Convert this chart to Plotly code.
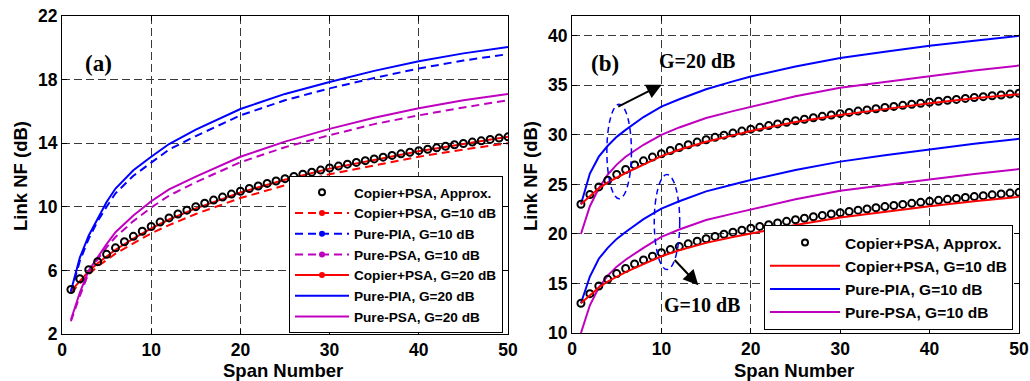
import plotly.graph_objects as go

# ---------------- data ----------------
SPANS = list(range(1, 51))
SPANS_LINE = [1, 2, 3, 4, 5, 6, 8, 10, 12, 15, 18, 20, 25, 30, 35, 40, 45, 50]

# Panel (a)
a_approx = [4.80, 5.47, 6.04, 6.55, 7.01, 7.42, 7.80, 8.14, 8.46, 8.76, 9.04, 9.30, 9.55, 9.79, 10.01,
            10.22, 10.42, 10.61, 10.80, 10.98, 11.15, 11.31, 11.47, 11.62, 11.77, 11.91, 12.05, 12.18,
            12.31, 12.44, 12.56, 12.68, 12.79, 12.90, 13.01, 13.12, 13.23, 13.33, 13.43, 13.53, 13.62,
            13.71, 13.81, 13.90, 13.98, 14.07, 14.15, 14.24, 14.32, 14.40]
a_copier_g10 = [4.6, 5.2, 5.75, 6.25, 6.65, 7.05, 7.7, 8.33, 8.85, 9.55, 10.15, 10.55, 11.35, 12.05, 12.6, 13.15, 13.6, 14.0]
a_pia_g10 = [4.6, 6.6, 8.0, 9.1, 10.0, 10.85, 11.95, 12.8, 13.6, 14.45, 15.2, 15.75, 16.7, 17.45, 18.1, 18.7, 19.2, 19.6]
a_psa_g10 = [2.8, 4.4, 5.85, 6.7, 7.45, 8.1, 9.1, 9.95, 10.7, 11.55, 12.3, 12.8, 13.75, 14.5, 15.2, 15.75, 16.25, 16.7]
a_copier_g20 = [4.7, 5.35, 5.95, 6.45, 6.9, 7.3, 8.0, 8.65, 9.2, 9.9, 10.5, 10.9, 11.7, 12.4, 12.95, 13.5, 13.95, 14.4]
a_pia_g20 = [4.7, 6.8, 8.2, 9.3, 10.3, 11.15, 12.3, 13.15, 13.95, 14.85, 15.6, 16.15, 17.1, 17.85, 18.55, 19.15, 19.65, 20.05]
a_psa_g20 = [2.9, 4.6, 6.0, 6.85, 7.65, 8.4, 9.45, 10.35, 11.1, 11.9, 12.65, 13.15, 14.1, 14.9, 15.6, 16.2, 16.7, 17.1]

# Panel (b)
b_approx_g20 = [23.00, 23.97, 24.75, 25.42, 26.00, 26.51, 26.97, 27.38, 27.76, 28.10, 28.42, 28.72, 29.00,
                29.27, 29.51, 29.75, 29.97, 30.18, 30.38, 30.58, 30.76, 30.94, 31.11, 31.27, 31.43, 31.58,
                31.73, 31.87, 32.01, 32.14, 32.27, 32.40, 32.52, 32.64, 32.76, 32.87, 32.98, 33.09, 33.19,
                33.29, 33.39, 33.49, 33.58, 33.68, 33.77, 33.86, 33.95, 34.03, 34.12, 34.20]
b_approx_g10 = [13.00, 13.97, 14.75, 15.42, 16.00, 16.51, 16.97, 17.38, 17.76, 18.10, 18.42, 18.72, 19.00,
                19.27, 19.51, 19.75, 19.97, 20.18, 20.38, 20.58, 20.76, 20.94, 21.11, 21.27, 21.43, 21.58,
                21.73, 21.87, 22.01, 22.14, 22.27, 22.40, 22.52, 22.64, 22.76, 22.87, 22.98, 23.09, 23.19,
                23.29, 23.39, 23.49, 23.58, 23.68, 23.77, 23.86, 23.95, 24.03, 24.12, 24.20]
b_copier_g20 = [23.0, 23.85, 24.6, 25.2, 25.7, 26.15, 27.0, 27.85, 28.5, 29.3, 29.95, 30.4, 31.3, 32.0, 32.6, 33.2, 33.7, 34.1]
b_pia_g20 = [23.0, 26.1, 27.8, 28.9, 29.8, 30.5, 31.8, 32.85, 33.6, 34.6, 35.4, 35.9, 36.9, 37.75, 38.4, 39.0, 39.5, 40.0]
b_psa_g20 = [20.0, 22.8, 24.6, 26.0, 27.0, 27.8, 29.0, 30.0, 30.75, 31.7, 32.4, 32.85, 33.9, 34.75, 35.35, 35.95, 36.5, 37.0]
b_copier_g10 = [13.0, 13.85, 14.6, 15.2, 15.7, 16.15, 16.95, 17.75, 18.35, 19.1, 19.7, 20.05, 20.9, 21.65, 22.25, 22.8, 23.3, 23.75]
b_pia_g10 = [13.0, 15.7, 17.5, 18.6, 19.5, 20.2, 21.5, 22.55, 23.3, 24.3, 25.0, 25.45, 26.45, 27.3, 27.95, 28.55, 29.1, 29.6]
b_psa_g10 = [10.0, 12.8, 14.6, 15.8, 16.7, 17.4, 18.6, 19.7, 20.45, 21.4, 22.05, 22.45, 23.5, 24.35, 24.95, 25.5, 26.05, 26.55]

LEGEND_A = ["Copier+PSA, Approx.", "Copier+PSA, G=10 dB", "Pure-PIA, G=10 dB", "Pure-PSA, G=10 dB",
            "Copier+PSA, G=20 dB", "Pure-PIA, G=20 dB", "Pure-PSA, G=20 dB"]
LEGEND_B = ["Copier+PSA, Approx.", "Copier+PSA, G=10 dB", "Pure-PIA, G=10 dB", "Pure-PSA, G=10 dB"]

# ---------------- style ----------------
RED, BLUE, MAG = "#FF0000", "#0000FF", "#BF00BF"
SANS = "Arial, Liberation Sans, sans-serif"
SERIF = "Times New Roman, Liberation Serif, serif"
DASH = "8px,5px"
LW = 2

fig = go.Figure()

def line(x, y, color, dash, xa, ya):
    fig.add_trace(go.Scatter(x=x, y=y, mode="lines", line=dict(color=color, width=LW, dash=dash),
                             xaxis=xa, yaxis=ya, showlegend=False, hoverinfo="skip"))

def circles(x, y, xa, ya):
    fig.add_trace(go.Scatter(x=x, y=y, mode="markers",
                             marker=dict(symbol="circle-open", size=7, color="black", line=dict(width=2)),
                             xaxis=xa, yaxis=ya, showlegend=False, hoverinfo="skip"))

def proxy(name, color, dash, marker, legend, circle=False):
    if circle:
        fig.add_trace(go.Scatter(x=[None], y=[None], mode="markers", name=name, legend=legend,
                                 marker=dict(symbol="circle-open", size=6, color="black", line=dict(width=2))))
    else:
        fig.add_trace(go.Scatter(x=[None], y=[None], mode="lines+markers" if marker else "lines",
                                 name=name, legend=legend,
                                 line=dict(color=color, width=LW, dash=dash),
                                 marker=dict(size=6, color=color)))

# panel (a)
line(SPANS_LINE, a_copier_g10, RED, DASH, "x", "y")
line(SPANS_LINE, a_pia_g10, BLUE, DASH, "x", "y")
line(SPANS_LINE, a_psa_g10, MAG, DASH, "x", "y")
line(SPANS_LINE, a_copier_g20, RED, "solid", "x", "y")
line(SPANS_LINE, a_pia_g20, BLUE, "solid", "x", "y")
line(SPANS_LINE, a_psa_g20, MAG, "solid", "x", "y")
circles(SPANS, a_approx, "x", "y")

# panel (b)
line(SPANS_LINE, b_pia_g20, BLUE, "solid", "x2", "y2")
line(SPANS_LINE, b_psa_g20, MAG, "solid", "x2", "y2")
line(SPANS_LINE, b_pia_g10, BLUE, "solid", "x2", "y2")
line(SPANS_LINE, b_psa_g10, MAG, "solid", "x2", "y2")
circles(SPANS, b_approx_g20, "x2", "y2")
circles(SPANS, b_approx_g10, "x2", "y2")
line(SPANS_LINE, b_copier_g20, RED, "solid", "x2", "y2")
line(SPANS_LINE, b_copier_g10, RED, "solid", "x2", "y2")

# legend entries
proxy(LEGEND_A[0], "black", None, False, "legend", circle=True)
proxy(LEGEND_A[1], RED, DASH, True, "legend")
proxy(LEGEND_A[2], BLUE, DASH, True, "legend")
proxy(LEGEND_A[3], MAG, DASH, True, "legend")
proxy(LEGEND_A[4], RED, "solid", True, "legend")
proxy(LEGEND_A[5], BLUE, "solid", False, "legend")
proxy(LEGEND_A[6], MAG, "solid", False, "legend")
proxy(LEGEND_B[0], "black", None, False, "legend2", circle=True)
proxy(LEGEND_B[1], RED, "solid", False, "legend2")
proxy(LEGEND_B[2], BLUE, "solid", False, "legend2")
proxy(LEGEND_B[3], MAG, "solid", False, "legend2")

tickfont = dict(family=SANS, size=17.5, color="black", weight="bold")
axis_common = dict(showline=True, linecolor="black", linewidth=1, mirror="ticks", ticks="inside",
                   ticklen=5, tickcolor="black", showgrid=True, gridcolor="#3a3a3a", gridwidth=1,
                   griddash="8px,4px", zeroline=False, tickfont=tickfont)

W, H = 1030, 381
fig.update_layout(
    width=W, height=H, margin=dict(l=0, r=0, t=0, b=0, autoexpand=False),
    paper_bgcolor="white", plot_bgcolor="white",
    xaxis=dict(domain=[62 / W, 508 / W], range=[0, 50], tickvals=[0, 10, 20, 30, 40, 50], anchor="y", **axis_common),
    yaxis=dict(domain=[1 - 334 / H, 1 - 16 / H], range=[2, 22], tickvals=[2, 6, 10, 14, 18, 22], anchor="x", **axis_common),
    xaxis2=dict(domain=[572 / W, 1019 / W], range=[0, 50], tickvals=[0, 10, 20, 30, 40, 50], anchor="y2", **axis_common),
    yaxis2=dict(domain=[1 - 333 / H, 1 - 16 / H], range=[10, 42], tickvals=[10, 15, 20, 25, 30, 35, 40], anchor="x2", **axis_common),
    legend=dict(x=503 / W, y=1 - 333 / H, xanchor="right", yanchor="bottom", bgcolor="white",
                bordercolor="black", borderwidth=1, itemwidth=54,
                font=dict(family=SANS, size=13.6, color="black", weight="bold")),
    legend2=dict(x=1013 / W, y=1 - 330 / H, xanchor="right", yanchor="bottom", bgcolor="white",
                 bordercolor="black", borderwidth=1, itemwidth=70,
                 font=dict(family=SANS, size=15.5, color="black", weight="bold")),
)

axis_title = dict(family=SANS, size=18.5, color="black", weight="bold")
serif = dict(family=SERIF, size=23, color="black", weight="bold")
serif_g = dict(family=SERIF, size=20, color="black", weight="bold")
C = dict(xanchor="center", yanchor="middle", showarrow=False)
annos = [
    dict(text="Span Number", x=283 / W, y=1 - 370 / H, xref="paper", yref="paper", font=axis_title, **C),
    dict(text="Span Number", x=794 / W, y=1 - 370 / H, xref="paper", yref="paper", font=axis_title, **C),
    dict(text="Link NF (dB)", x=20 / W, y=1 - 176 / H, xref="paper", yref="paper", textangle=-90, font=axis_title, **C),
    dict(text="Link NF (dB)", x=530 / W, y=1 - 176 / H, xref="paper", yref="paper", textangle=-90, font=axis_title, **C),
    dict(text="(a)", x=4.07, y=19.0, xref="x", yref="y", font=serif, **C),
    dict(text="(b)", x=3.7, y=37.2, xref="x2", yref="y2", font=serif, **C),
    dict(text="G=20 dB", x=13.95, y=37.5, xref="x2", yref="y2", font=serif_g, **C),
    dict(text="G=10 dB", x=14.5, y=12.8, xref="x2", yref="y2", font=serif_g, **C),
    dict(text="", x=10.03, y=35.07, ax=5.0, ay=32.78, xref="x2", yref="y2", axref="x2", ayref="y2",
         showarrow=True, arrowhead=2, arrowsize=1.5, arrowwidth=2, arrowcolor="black"),
    dict(text="", x=14.13, y=14.83, ax=11.33, ay=17.52, xref="x2", yref="y2", axref="x2", ayref="y2",
         showarrow=True, arrowhead=2, arrowsize=1.5, arrowwidth=2, arrowcolor="black"),
]
fig.update_layout(annotations=annos)

fig.update_layout(shapes=[
    dict(type="circle", xref="x2", yref="y2", x0=3.9, x1=6.65, y0=23.55, y1=33.1,
         line=dict(color=BLUE, width=1.5, dash="6px,4px")),
    dict(type="circle", xref="x2", yref="y2", x0=9.2, x1=12.05, y0=16.4, y1=26.0,
         line=dict(color=BLUE, width=1.5, dash="6px,4px")),
])

fig.write_html("out.html", config={"displayModeBar": False},
               post_script="document.body.style.margin='0px';document.body.style.overflow='hidden';")
